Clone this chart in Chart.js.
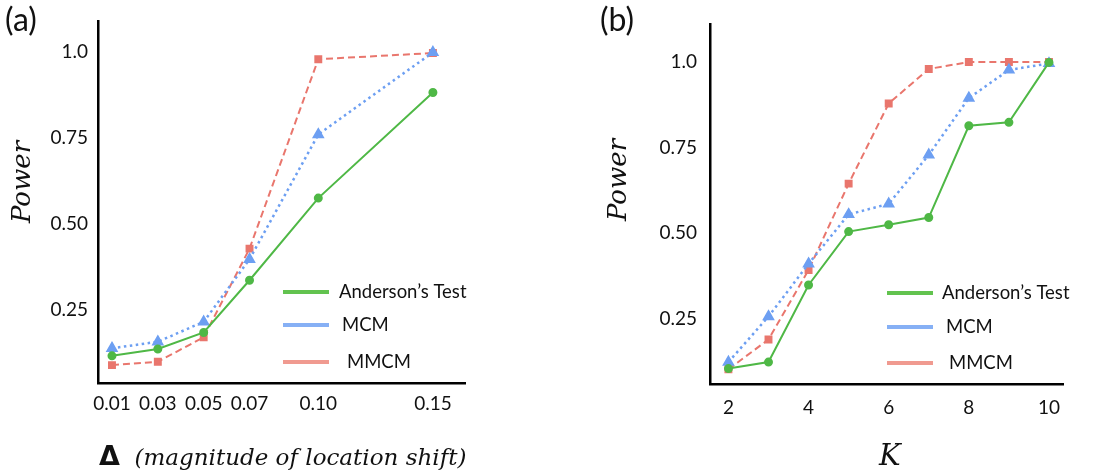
<!DOCTYPE html>
<html>
<head>
<meta charset="utf-8">
<script src="https://cdn.jsdelivr.net/npm/chart.js@4.4.0/dist/chart.umd.min.js"></script>
<style>
  body { margin: 0; background: #fff; }
  #wrap { position: relative; width: 1100px; height: 473px; overflow: hidden; }
  .panel { position: absolute; top: 0; width: 550px; height: 473px; }
  .lbl { position: absolute; color: #111; white-space: nowrap; }
  .tag { font-family: Lato, sans-serif; font-size: 32px; line-height: 38px; top: 0; }
  .ytitle { font-family: "DejaVu Serif", serif; font-style: italic; font-size: 26px;
            transform: translate(-50%, -50%) rotate(-90deg); }
  .xtitle { font-family: "DejaVu Serif", serif; font-style: italic; font-size: 23px;
            transform: translateY(-50%); }
</style>
</head>
<body>
<div id="wrap">
  <div class="panel" style="left:0"><canvas id="chartA"></canvas></div>
  <div class="panel" style="left:550px"><canvas id="chartB"></canvas></div>
  <div class="lbl tag" style="left:5px">(a)</div>
  <div class="lbl tag" style="left:600px">(b)</div>
  <div class="lbl ytitle" style="left:21px; top:182px">Power</div>
  <div class="lbl ytitle" style="left:617px; top:180px">Power</div>
  <div class="lbl xtitle" style="left:99px; top:455px"><span style="font-family:'DejaVu Sans',sans-serif;font-style:normal;font-weight:bold;font-size:27px">Δ</span>&nbsp;&nbsp;(magnitude of location shift)</div>
  <div class="lbl xtitle" style="left:879px; top:455px; font-size:29px">K</div>
</div>
<script>
// panel (a): power vs magnitude of location shift
var deltaValues = [0.01, 0.03, 0.05, 0.07, 0.10, 0.15];
var deltaLabels = ['0.01', '0.03', '0.05', '0.07', '0.10', '0.15'];
var andersonA = [0.117, 0.137, 0.185, 0.337, 0.576, 0.883];
var mcmA = [0.139, 0.158, 0.216, 0.398, 0.761, 1.0];
var mmcmA = [0.090, 0.100, 0.171, 0.429, 0.980, 0.998];

// panel (b): power vs K
var kValues = [2, 3, 4, 5, 6, 7, 8, 9, 10];
var kTicks = [2, 4, 6, 8, 10];
var andersonB = [0.105, 0.124, 0.349, 0.505, 0.525, 0.546, 0.814, 0.824, 0.999];
var mcmB = [0.124, 0.257, 0.411, 0.555, 0.586, 0.729, 0.895, 0.977, 0.996];
var mmcmB = [0.103, 0.190, 0.393, 0.645, 0.879, 0.980, 1.0, 1.0, 1.0];

var powerTicks = [0.25, 0.5, 0.75, 1.0];
var powerTickLabels = ['0.25', '0.50', '0.75', '1.0'];
var seriesNames = ['Anderson\u2019s Test', 'MCM', 'MMCM'];

var green = '#4fb846', blue = '#6d9ff2', red = '#e9766d';
var legendColors = ['#62c34f', '#86b0f5', '#f09a90'];

function toPoints(xs, ys) {
  return xs.map(function (x, i) { return {x: x, y: ys[i]}; });
}

function makeDatasets(xs, a, m, mm) {
  return [{
    label: seriesNames[0], data: toPoints(xs, a),
    borderColor: green, backgroundColor: green, borderWidth: 2,
    pointStyle: 'circle', pointRadius: 3.5
  }, {
    label: seriesNames[1], data: toPoints(xs, m),
    borderColor: blue, backgroundColor: blue, borderWidth: 2.5, borderDash: [2.5, 3.5],
    pointStyle: 'triangle', pointRadius: 4.8
  }, {
    label: seriesNames[2], data: toPoints(xs, mm),
    borderColor: red, backgroundColor: red, borderWidth: 2, borderDash: [7, 4],
    pointStyle: 'rect', pointRadius: 4.2
  }];
}

// legend drawn inside the plot area
var innerLegend = {
  id: 'innerLegend',
  afterDraw: function (chart, args, opts) {
    var ctx = chart.ctx;
    ctx.save();
    ctx.font = '18.5px Lato, sans-serif';
    ctx.textBaseline = 'middle';
    ctx.fillStyle = '#111';
    seriesNames.forEach(function (name, i) {
      ctx.strokeStyle = legendColors[i];
      ctx.lineWidth = 4;
      ctx.beginPath();
      ctx.moveTo(opts.x0, opts.ys[i]);
      ctx.lineTo(opts.x1, opts.ys[i]);
      ctx.stroke();
      ctx.fillText(name, opts.textX[i], opts.ys[i]);
    });
    ctx.restore();
  }
};

function makeChart(id, cfg) {
  var ctx = document.getElementById(id).getContext('2d');
  return new Chart(ctx, {
    type: 'line',
    data: {datasets: cfg.datasets},
    options: {
      responsive: true,
      maintainAspectRatio: false,
      animation: false,
      layout: {padding: {left: 0, right: cfg.padRight, top: 21, bottom: 0}},
      plugins: {
        legend: {display: false},
        tooltip: {enabled: false},
        innerLegend: cfg.legend
      },
      scales: {
        x: {
          type: 'linear', min: cfg.xMin, max: cfg.xMax,
          grid: {display: false, drawTicks: false},
          border: {color: '#000', width: 2.5},
          afterBuildTicks: function (s) { s.ticks = cfg.xTicks.map(function (v) { return {value: v}; }); },
          afterFit: function (s) { s.height = cfg.xHeight; },
          ticks: {
            padding: cfg.xPad, color: '#111', font: {family: 'Lato', size: 19},
            callback: cfg.xLabel
          }
        },
        y: {
          min: cfg.yMin, max: cfg.yMax,
          grid: {display: false, drawTicks: false},
          border: {color: '#000', width: 2.5},
          afterBuildTicks: function (s) { s.ticks = powerTicks.map(function (v) { return {value: v}; }); },
          afterFit: function (s) { s.width = cfg.yWidth; },
          ticks: {
            padding: cfg.yPad, color: '#111', font: {family: 'Lato', size: 19},
            callback: function (v) { return powerTickLabels[powerTicks.indexOf(v)]; }
          }
        }
      }
    },
    plugins: [innerLegend]
  });
}

makeChart('chartA', {
  datasets: makeDatasets(deltaValues, andersonA, mcmA, mmcmA),
  padRight: 85, xMin: 0.0039, xMax: 0.164, xHeight: 90, xPad: 9, yWidth: 98, yPad: 10,
  yMin: 0.038, yMax: 1.09,
  xTicks: deltaValues,
  xLabel: function (v) { return deltaLabels[deltaValues.indexOf(v)]; },
  legend: {x0: 283, x1: 329, ys: [292, 325, 362], textX: [339, 342, 347]}
});

makeChart('chartB', {
  datasets: makeDatasets(kValues, andersonB, mcmB, mmcmB),
  padRight: 37, xMin: 1.54, xMax: 10.35, xHeight: 89, xPad: 12, yWidth: 160, yPad: 13,
  yMin: 0.06, yMax: 1.11,
  xTicks: kTicks,
  xLabel: function (v) { return String(v); },
  legend: {x0: 337, x1: 383, ys: [293, 327, 363], textX: [392, 396, 399]}
});
</script>
</body>
</html>
